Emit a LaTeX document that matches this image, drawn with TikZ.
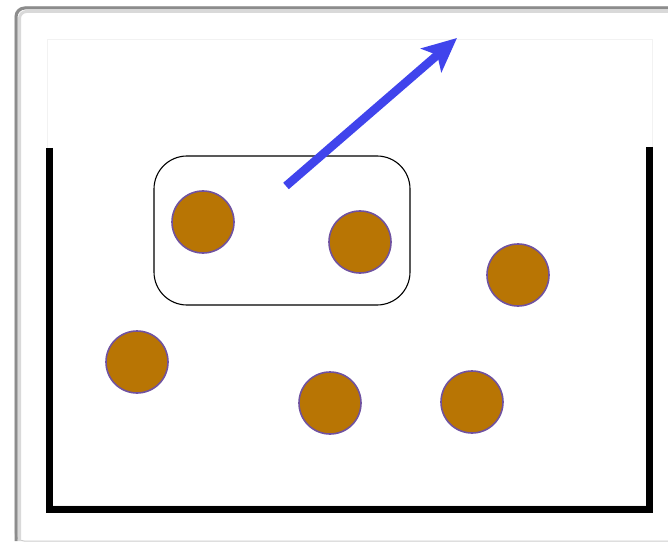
\documentclass[tikz,border=0pt]{standalone}
\usepackage{tikz}
\usetikzlibrary{arrows.meta,positioning}
\definecolor{beadbrown}{RGB}{184,117,4}
\definecolor{beadrim}{RGB}{112,82,160}
\definecolor{pushblue}{RGB}{64,68,236}

\begin{document}
\begin{tikzpicture}[
    x=1pt,
    y=-1pt,
    bead/.style={
        circle,
        draw=beadrim,
        line width=1.6pt,
        fill=beadbrown,
        minimum size=62pt,
        inner sep=0pt
    },
    pairbox/.style={
        draw=black,
        rounded corners=33pt,
        line width=1.1pt,
        minimum width=256pt,
        minimum height=149pt
    },
    wall/.style={line width=7pt, line join=miter},
    push/.style={-{Stealth[length=34pt,width=31pt,inset=8pt]}, line width=8.5pt, pushblue}
]
\useasboundingbox (0,0) rectangle (668,545);

% frame
\draw[black!20, line width=1pt, rounded corners=9pt] (15,7) rectangle (700,541);
\draw[black!45, line width=3pt, rounded corners=9pt] (16,541) |- (700,8);
\draw[black!15, line width=3pt, rounded corners=7pt] (19.5,541) |- (700,11.5);
\draw[black!5, line width=0.6pt] (47,39) rectangle (652,505);

% vessel
\coordinate (tl) at (49,148);
\coordinate (bl) at (49,509);
\coordinate (br) at (649,509);
\coordinate (tr) at (649,147);
\draw[wall] (tl) -- (bl) -- (br) -- (tr);

% beads
\node[pairbox] (pair) at (282,230.5) {};
\node[bead] (b1) at (203,222) {};
\node[bead] (b2) at (360,242) {};
\node[bead] (b3) at (518,275) {};
\node[bead] (b4) at (137,362) {};
\node[bead] (b5) at (330,403) {};
\node[bead] (b6) at (472,402) {};

% push
\coordinate (tail) at (286,186);
\coordinate (tip) at (457,38);
\draw[push] (tail) -- (tip);

\end{tikzpicture}
\end{document}
